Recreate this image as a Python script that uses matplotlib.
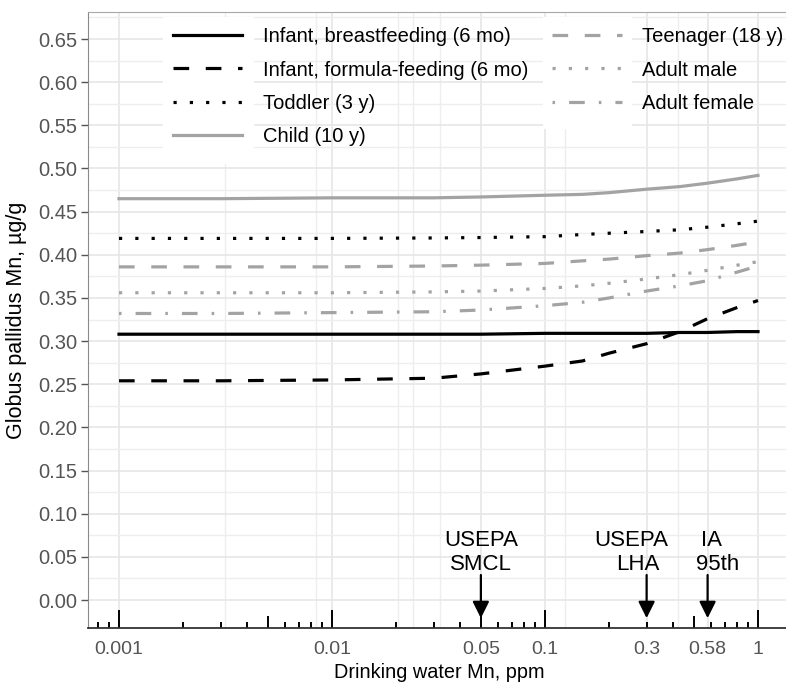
import numpy as np
import matplotlib
matplotlib.use("Agg")
import matplotlib.pyplot as plt
import matplotlib.transforms as mtransforms
from matplotlib.patches import Rectangle
from matplotlib.ticker import NullFormatter

plt.rcParams['font.family'] = ['Liberation Sans', 'DejaVu Sans']

# water Mn (ppm) at which the curves were read
water_mn = [0.001, 0.003, 0.01, 0.03, 0.05, 0.1, 0.15, 0.2, 0.3, 0.43, 0.58, 0.8, 1.0]

infant_bf = [0.308, 0.308, 0.308, 0.308, 0.308, 0.309, 0.309, 0.309, 0.309, 0.310, 0.310, 0.311, 0.311]
infant_ff = [0.254, 0.254, 0.255, 0.257, 0.262, 0.271, 0.277, 0.286, 0.297, 0.311, 0.326, 0.339, 0.347]
toddler = [0.419, 0.419, 0.419, 0.4195, 0.420, 0.421, 0.4235, 0.425, 0.427, 0.429, 0.432, 0.436, 0.439]
child = [0.465, 0.465, 0.466, 0.466, 0.467, 0.469, 0.470, 0.472, 0.476, 0.479, 0.483, 0.488, 0.492]
teen = [0.386, 0.386, 0.386, 0.387, 0.388, 0.390, 0.393, 0.395, 0.399, 0.402, 0.406, 0.411, 0.415]
adult_m = [0.356, 0.356, 0.356, 0.357, 0.358, 0.361, 0.364, 0.367, 0.372, 0.377, 0.382, 0.388, 0.392]
adult_f = [0.332, 0.332, 0.333, 0.334, 0.336, 0.341, 0.345, 0.350, 0.358, 0.364, 0.370, 0.380, 0.387]

labels = ["Infant, breastfeeding (6 mo)", "Infant, formula-feeding (6 mo)",
          "Toddler (3 y)", "Child (10 y)", "Teenager (18 y)",
          "Adult male", "Adult female"]

x_ticks = [0.001, 0.01, 0.05, 0.1, 0.3, 0.58, 1]
x_ticklabels = ["0.001", "0.01", "0.05", "0.1", "0.3", "0.58", "1"]
x_minor_grid = [0.00316, 0.0084, 0.0204, 0.024, 0.0321, 0.124, 0.42]
y_ticks = np.arange(0, 0.66, 0.05)

guide_x = [0.05, 0.3, 0.58]
guide_top = ["USEPA", "USEPA", "IA"]
guide_bottom = ["SMCL", "LHA", "95th"]

BLACK = "black"
GRAY = "#a3a3a3"
lw = 2.3
styles = [
    dict(color=BLACK, ls="-"),
    dict(color=BLACK, ls=(0, (4.9, 5.2))),
    dict(color=BLACK, ls=(0, (1.0, 4.1))),
    dict(color=GRAY, ls="-"),
    dict(color=GRAY, ls=(0, (4.9, 5.2))),
    dict(color=GRAY, ls=(0, (1.0, 4.1))),
    dict(color=GRAY, ls=(0, (0.8, 4.4, 4.9, 4.4))),
]
series = [infant_bf, infant_ff, toddler, child, teen, adult_m, adult_f]

W, H = 786, 683
fig = plt.figure(figsize=(W / 100, H / 100), dpi=100)
ax = fig.add_axes([88 / W, (H - 628) / H, 3.3 * 213 / W, (628 - 12) / H])

for vals, lab, st in zip(series, labels, styles):
    ax.plot(water_mn, vals, lw=lw, label=lab, dash_capstyle="butt", **st)

ax.set_xscale("log")
ax.set_xlim(10 ** -3.1455, 10 ** 0.1545)
ax.set_ylim(-0.0324, 0.6813)

ax.set_xticks(x_ticks)
ax.set_xticklabels(x_ticklabels)
ax.set_xticks(x_minor_grid, minor=True)
ax.xaxis.set_minor_formatter(NullFormatter())
ax.set_yticks(y_ticks)
ax.set_yticklabels([f"{v:.2f}" for v in y_ticks])
ax.set_yticks(np.arange(0.025, 0.68, 0.05), minor=True)
ax.tick_params(axis="x", which="both", length=0, labelsize=14,
               labelcolor="#555555", pad=9)
ax.tick_params(axis="y", which="major", length=5, width=1, color="#555555",
               labelsize=14.5, labelcolor="#555555", pad=3)
ax.tick_params(axis="y", which="minor", length=0)

ax.grid(True, which="major", color="#e6e6e6", lw=1.2)
ax.grid(True, which="minor", color="#eeeeee", lw=1.0)
ax.set_axisbelow(True)

for side in ["top", "right"]:
    ax.spines[side].set_color("#a8a8a8")
ax.spines["left"].set_color("#8a8a8a")
ax.spines["bottom"].set_color("#333333")
ax.spines["bottom"].set_linewidth(1.3)

# white backgrounds behind the legend keys (hide the grid there)
for x0, y0, x1, y1 in [(163, 17, 254, 164), (543, 17, 632, 129)]:
    ax.add_patch(Rectangle((x0 / W, 1 - y1 / H), (x1 - x0) / W, (y1 - y0) / H,
                           transform=fig.transFigure, facecolor="white",
                           edgecolor="none", zorder=1))

# log ticks along the bottom
trans = mtransforms.blended_transform_factory(ax.transData, ax.transAxes)
for dec in [1e-4, 1e-3, 1e-2, 1e-1, 1.0]:
    for m in range(1, 10):
        xv = dec * m
        if xv < 10 ** -3.1455 or xv > 10 ** 0.1545:
            continue
        h = 0.030 if m == 1 else (0.020 if m == 5 else 0.010)
        ax.plot([xv, xv], [0, h], color="black", lw=1.4, transform=trans,
                clip_on=False, solid_capstyle="butt")

ax.set_xlabel("Drinking water Mn, ppm", fontsize=14.3, labelpad=4)
ax.set_ylabel("Globus pallidus Mn, µg/g", fontsize=15.5, labelpad=8)

# reference levels
top_dx = [0, -11, 3]
bot_dx = [0, -6, 7]
for xv, t1, t2, d1, d2 in zip(guide_x, guide_top, guide_bottom, top_dx, bot_dx):
    ax.annotate("", xy=(xv, -0.021), xytext=(xv, 0.029),
                arrowprops=dict(arrowstyle="-|>,head_length=0.5,head_width=0.25",
                                color="black", lw=1.6, mutation_scale=20,
                                shrinkA=0, shrinkB=0))
    ax.annotate(t1, xy=(xv, 0.0687), xytext=(d1, 0), textcoords="offset points",
                ha="center", va="center", fontsize=16)
    ax.annotate(t2, xy=(xv, 0.0406), xytext=(d2, 0), textcoords="offset points",
                ha="center", va="center", fontsize=16)

ax.legend(ncol=2, loc="upper left", bbox_to_anchor=(173 / W, 1 - 27 / H),
          bbox_transform=fig.transFigure, frameon=False, fontsize=14.5,
          handlelength=3.45, handletextpad=1.0, columnspacing=1.2,
          labelspacing=0.72, borderpad=0, borderaxespad=0)

fig.savefig("out.png", dpi=100)
